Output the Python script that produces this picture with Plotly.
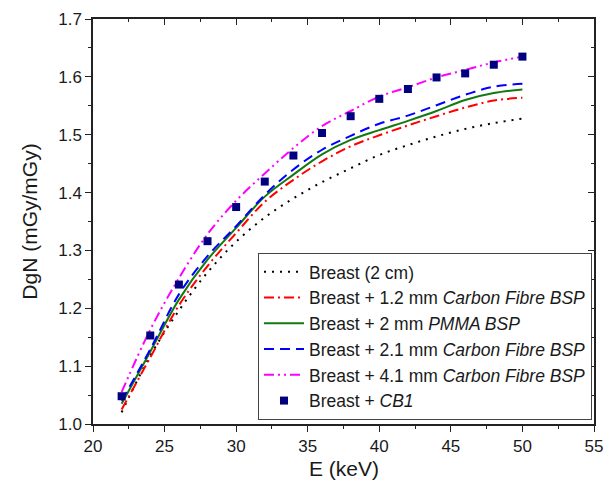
import plotly.graph_objects as go

# photon energy (keV)
energy = [22, 24, 26, 28, 30, 32, 34, 36, 38, 40, 42, 44, 46, 48, 50]

# DgN (mGy/mGy) per configuration
breast_2cm = [1.020, 1.118, 1.196, 1.262, 1.315, 1.357, 1.390, 1.418, 1.442, 1.465, 1.482, 1.497, 1.510, 1.520, 1.528]
cf_12mm = [1.025, 1.115, 1.205, 1.273, 1.330, 1.384, 1.422, 1.454, 1.480, 1.499, 1.516, 1.532, 1.547, 1.559, 1.564]
pmma_2mm = [1.035, 1.125, 1.215, 1.284, 1.339, 1.393, 1.431, 1.466, 1.491, 1.508, 1.524, 1.541, 1.560, 1.572, 1.578]
cf_21mm = [1.040, 1.129, 1.224, 1.290, 1.342, 1.396, 1.440, 1.474, 1.498, 1.519, 1.533, 1.551, 1.569, 1.583, 1.588]
cf_41mm = [1.055, 1.163, 1.252, 1.328, 1.386, 1.433, 1.477, 1.515, 1.541, 1.566, 1.582, 1.599, 1.612, 1.625, 1.635]
cb1 = [1.048, 1.153, 1.241, 1.316, 1.375, 1.419, 1.464, 1.503, 1.532, 1.562, 1.579, 1.599, 1.606, 1.621, 1.635]

fig = go.Figure()

lines = [
    ("Breast (2 cm)", breast_2cm, "#000000", "2px,6px"),
    ("Breast + 1.2 mm <i>Carbon Fibre BSP</i>", cf_12mm, "#ff0000", "10px,4px,2px,4px"),
    ("Breast + 2 mm <i>PMMA BSP</i>", pmma_2mm, "#107a10", "solid"),
    ("Breast + 2.1 mm <i>Carbon Fibre BSP</i>", cf_21mm, "#0000ff", "10px,6px"),
    ("Breast + 4.1 mm <i>Carbon Fibre BSP</i>", cf_41mm, "#ff00ff", "10px,4px,2px,4px,2px,4px"),
]
for name, vals, col, dash in lines:
    fig.add_trace(go.Scatter(
        x=energy, y=vals, mode='lines', name=name,
        line={'color': col, 'width': 2, 'dash': dash, 'shape': 'spline'},
    ))

# markers on the mirrored (top/right) axes so those get drawn with inward ticks
fig.add_trace(go.Scatter(
    x=energy, y=cb1, mode='markers', name="Breast + <i>CB1</i>",
    marker={'symbol': 'square', 'size': 8, 'color': '#000080'},
    xaxis='x2', yaxis='y2',
))

font_col = '#1a1a1a'
ax_common = {'showgrid': False, 'zeroline': False, 'showline': True,
             'linecolor': '#222', 'linewidth': 1.5, 'tickwidth': 1.3,
             'ticklen': 6, 'tickcolor': '#222'}

fig.update_layout(
    width=612, height=486,
    margin={'l': 93, 'r': 18, 't': 19, 'b': 62},
    plot_bgcolor='white', paper_bgcolor='white',
    font={'family': 'Liberation Sans, Arial, sans-serif', 'color': font_col, 'size': 17},
    xaxis={**ax_common, 'range': [20, 55], 'dtick': 5, 'ticks': 'outside',
           'minor': {'dtick': 2.5, 'ticks': 'outside', 'ticklen': 3, 'tickwidth': 1.2},
           'automargin': False},
    yaxis={**ax_common, 'range': [1.0, 1.7], 'dtick': 0.1, 'tickformat': '.1f',
           'ticks': 'outside',
           'minor': {'dtick': 0.05, 'ticks': 'outside', 'ticklen': 3, 'tickwidth': 1.2},
           'automargin': False,
           'title': {'text': 'DgN (mGy/mGy)', 'font': {'size': 21}}},
    xaxis2={**ax_common, 'overlaying': 'x', 'side': 'top', 'anchor': 'y2',
            'range': [20, 55], 'dtick': 5, 'ticks': 'inside', 'showticklabels': False,
            'minor': {'dtick': 2.5, 'ticks': 'inside', 'ticklen': 3, 'tickwidth': 1.2}},
    yaxis2={**ax_common, 'overlaying': 'y', 'side': 'right', 'anchor': 'x2',
            'range': [1.0, 1.7], 'dtick': 0.1, 'ticks': 'inside', 'showticklabels': False,
            'minor': {'dtick': 0.05, 'ticks': 'inside', 'ticklen': 3, 'tickwidth': 1.2}},
    legend={'x': 0.996, 'y': 0.01, 'xanchor': 'right', 'yanchor': 'bottom',
            'bgcolor': 'white', 'bordercolor': '#444', 'borderwidth': 1,
            'font': {'size': 17.5, 'color': font_col}, 'tracegroupgap': 0,
            'itemwidth': 40},
    showlegend=True,
)
# x title as an annotation so it sits where the reference has it
fig.add_annotation(text='E (keV)', xref='paper', yref='paper', x=0.5, y=-0.109,
                   xanchor='center', yanchor='middle', showarrow=False,
                   font={'size': 21, 'color': font_col})

# drop the browser's default body margin so the figure sits at the page corner
fig.write_html("out.html", config={'displayModeBar': False},
               post_script="document.body.style.margin='0';")
